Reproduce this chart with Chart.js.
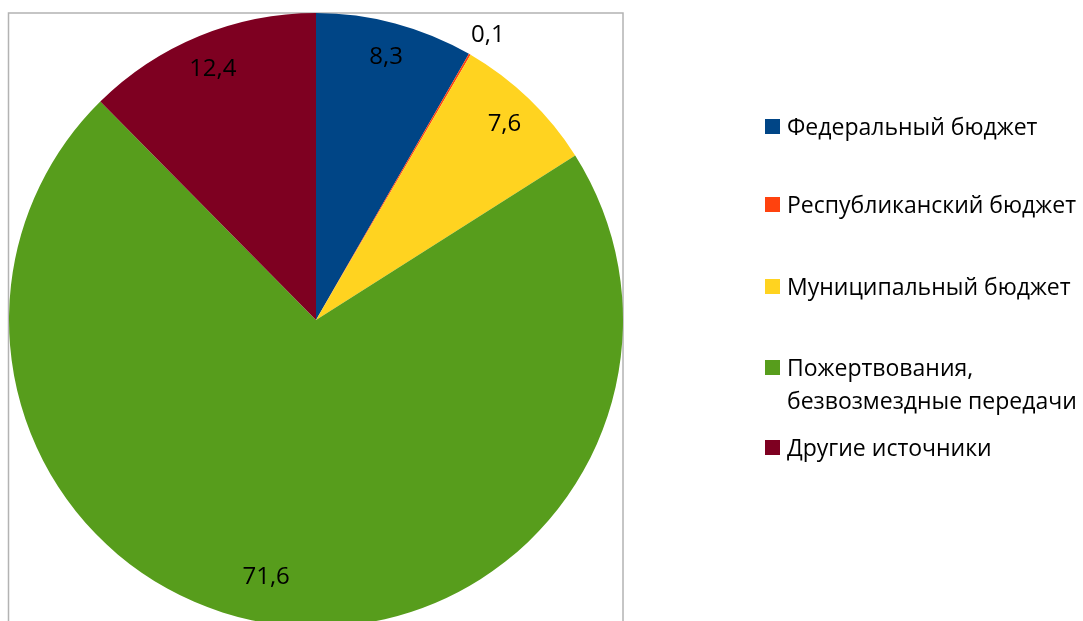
<!DOCTYPE html>
<html lang="ru">
<head>
<meta charset="utf-8">
<script src="https://cdn.jsdelivr.net/npm/chart.js@4/dist/chart.umd.min.js"></script>
<style>
    html, body { margin: 0; padding: 0; background: #fff; overflow: hidden; }
    #wrap { position: relative; width: 1083px; height: 650px; }
    #legend { position: absolute; left: 765px; top: 0; font-family: "Open Sans", sans-serif; font-size: 23px; color: #000; }
    .item { position: absolute; left: 0; white-space: nowrap; line-height: 33px; }
    .box { position: absolute; left: 0; top: 9px; width: 15px; height: 15px; }
    .text { position: absolute; left: 22px; top: 0; }
</style>
</head>
<body>
<div id="wrap">
    <canvas id="pie" width="1083" height="650"></canvas>
    <div id="legend"></div>
</div>
<script>
const labels = ['Федеральный бюджет', 'Республиканский бюджет', 'Муниципальный бюджет', 'Пожертвования,\nбезвозмездные передачи', 'Другие источники'];
const values = [8.3, 0.1, 7.6, 71.6, 12.4];
const colors = ['#004586', '#ff420e', '#ffd320', '#579d1c', '#7e0021'];

// label placement: fraction of radius and angle shift (deg)
const labelPlace = [[0.885, 0], [1.085, 1], [0.885, 0], [0.853, 4.5], [0.885, 0]];
// legend item tops (first line centre - 16)
const legendTops = [110, 188, 270, 351, 431];

const frame = {
    id: 'frame',
    beforeDraw(chart) {
        const ctx = chart.ctx;
        ctx.save();
        ctx.strokeStyle = '#b3b3b3';
        ctx.lineWidth = 1.5;
        ctx.strokeRect(8.5, 13, 614.5, 700);
        ctx.restore();
    }
};

const valueLabels = {
    id: 'valueLabels',
    afterDatasetsDraw(chart) {
        const ctx = chart.ctx;
        const arcs = chart.getDatasetMeta(0).data;
        ctx.save();
        ctx.font = '24px "Open Sans"';
        ctx.fillStyle = '#000';
        ctx.textAlign = 'center';
        ctx.textBaseline = 'middle';
        arcs.forEach((arc, i) => {
            const p = arc.getProps(['x', 'y', 'startAngle', 'endAngle', 'outerRadius'], true);
            const mid = (p.startAngle + p.endAngle) / 2 + labelPlace[i][1] * Math.PI / 180;
            const r = p.outerRadius * labelPlace[i][0];
            ctx.fillText(values[i].toFixed(1).replace('.', ','), p.x + Math.cos(mid) * r, p.y + Math.sin(mid) * r);
        });
        ctx.restore();
    }
};

new Chart(document.getElementById('pie'), {
    type: 'pie',
    data: {
        labels: labels,
        datasets: [{
            data: values,
            backgroundColor: colors,
            borderWidth: 0
        }]
    },
    options: {
        responsive: false,
        animation: false,
        layout: { padding: { left: 9, top: 13, right: 460, bottom: 23 } },
        plugins: { legend: { display: false }, tooltip: { enabled: false } }
    },
    plugins: [frame, valueLabels]
});

const legend = document.getElementById('legend');
labels.forEach((name, i) => {
    const item = document.createElement('div');
    item.className = 'item';
    item.style.top = legendTops[i] + 'px';
    item.innerHTML = `<span class="box" style="background:${colors[i]}"></span><span class="text">${name.replace('\n', '<br>')}</span>`;
    legend.appendChild(item);
});
</script>
</body>
</html>
